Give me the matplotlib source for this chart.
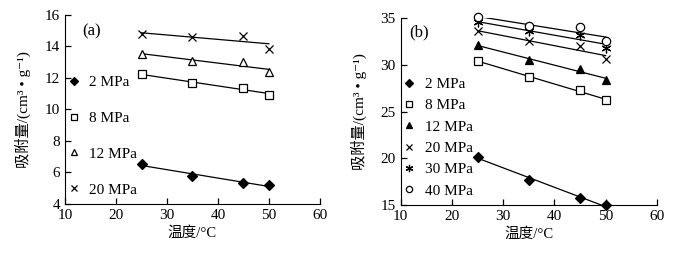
import matplotlib
matplotlib.use("Agg")
import matplotlib.pyplot as plt
import numpy as np

plt.rcParams['font.family'] = ['Liberation Serif', 'Noto Sans CJK SC', 'DejaVu Sans']
plt.rcParams['mathtext.fontset'] = 'stix'

temps = [25, 35, 45, 50]

# panel (a)
labels_a = ["2 MPa", "8 MPa", "12 MPa", "20 MPa"]
ads_a_2 = [6.55, 5.75, 5.32, 5.22]
ads_a_8 = [12.25, 11.66, 11.37, 10.95]
ads_a_12 = [13.52, 13.10, 13.00, 12.36]
ads_a_20 = [14.78, 14.62, 14.67, 13.87]

# panel (b)
labels_b = ["2 MPa", "8 MPa", "12 MPa", "20 MPa", "30 MPa", "40 MPa"]
ads_b_2 = [20.18, 17.68, 15.75, 15.0]
ads_b_8 = [30.43, 28.64, 27.32, 26.20]
ads_b_12 = [32.07, 30.54, 29.57, 28.35]
ads_b_20 = [33.60, 32.50, 31.96, 30.65]
ads_b_30 = [34.55, 33.57, 33.21, 31.80]
ads_b_40 = [35.10, 34.20, 34.04, 32.50]

styles_a = [
    dict(marker='D', mfc='black', ms=5),
    dict(marker='s', mfc='white', ms=5.5),
    dict(marker='^', mfc='white', ms=6),
    dict(marker='x', mfc='black', ms=6),
]
styles_b = [
    dict(marker='D', mfc='black', ms=5),
    dict(marker='s', mfc='white', ms=5.5),
    dict(marker='^', mfc='black', ms=6),
    dict(marker='x', mfc='black', ms=6),
    dict(marker=(6, 2, 0), mfc='black', ms=7),
    dict(marker='o', mfc='white', ms=6),
]


def draw_panel(ax, series, labels, styles, ylim, yticks, tag, tag_pos, spacing):
    t = np.array(temps, dtype=float)
    handles = []
    for y, lab, st in zip(series, labels, styles):
        k, b = np.polyfit(t, y, 1)
        ax.plot([t[0], t[-1]], [k * t[0] + b, k * t[-1] + b], color='black', lw=0.9)
        h, = ax.plot(t, y, linestyle='none', color='black', mec='black', mew=0.9,
                     label=lab, clip_on=False, zorder=3, **st)
        handles.append(h)
    ax.set_xlim(10, 60)
    ax.set_ylim(*ylim)
    ax.set_xticks([10, 20, 30, 40, 50, 60])
    ax.set_yticks(yticks)
    for s in ('top', 'right'):
        ax.spines[s].set_visible(False)
    ax.tick_params(direction='in', length=4, labelsize=11, width=0.9)
    ax.set_xlabel("温度/°C", fontsize=10.5, labelpad=3)
    ax.set_ylabel("吸附量/(cm³ • g⁻¹)", fontsize=11, labelpad=10)
    ax.text(tag_pos[0], tag_pos[1], tag, transform=ax.transAxes, fontsize=12,
            va='center', ha='left')
    ax.legend(handles=handles, frameon=False, loc='lower left',
              bbox_to_anchor=(-0.02, -0.01), fontsize=11, labelspacing=spacing,
              handlelength=0.6, handletextpad=0.7, borderaxespad=0.2,
              markerscale=0.75)


fig = plt.figure(figsize=(6.85, 2.54), dpi=100)
ax_a = fig.add_axes([0.095, 0.197, 0.372, 0.744])
ax_b = fig.add_axes([0.585, 0.193, 0.374, 0.736])

draw_panel(ax_a, [ads_a_2, ads_a_8, ads_a_12, ads_a_20], labels_a, styles_a,
           (4, 16), [4, 6, 8, 10, 12, 14, 16], "(a)", (0.067, 0.915), 1.45)
draw_panel(ax_b, [ads_b_2, ads_b_8, ads_b_12, ads_b_20, ads_b_30, ads_b_40], labels_b,
           styles_b, (15, 35), [15, 20, 25, 30, 35], "(b)", (0.035, 0.925), 0.5)

fig.savefig("out.png", dpi=100, facecolor='white')
